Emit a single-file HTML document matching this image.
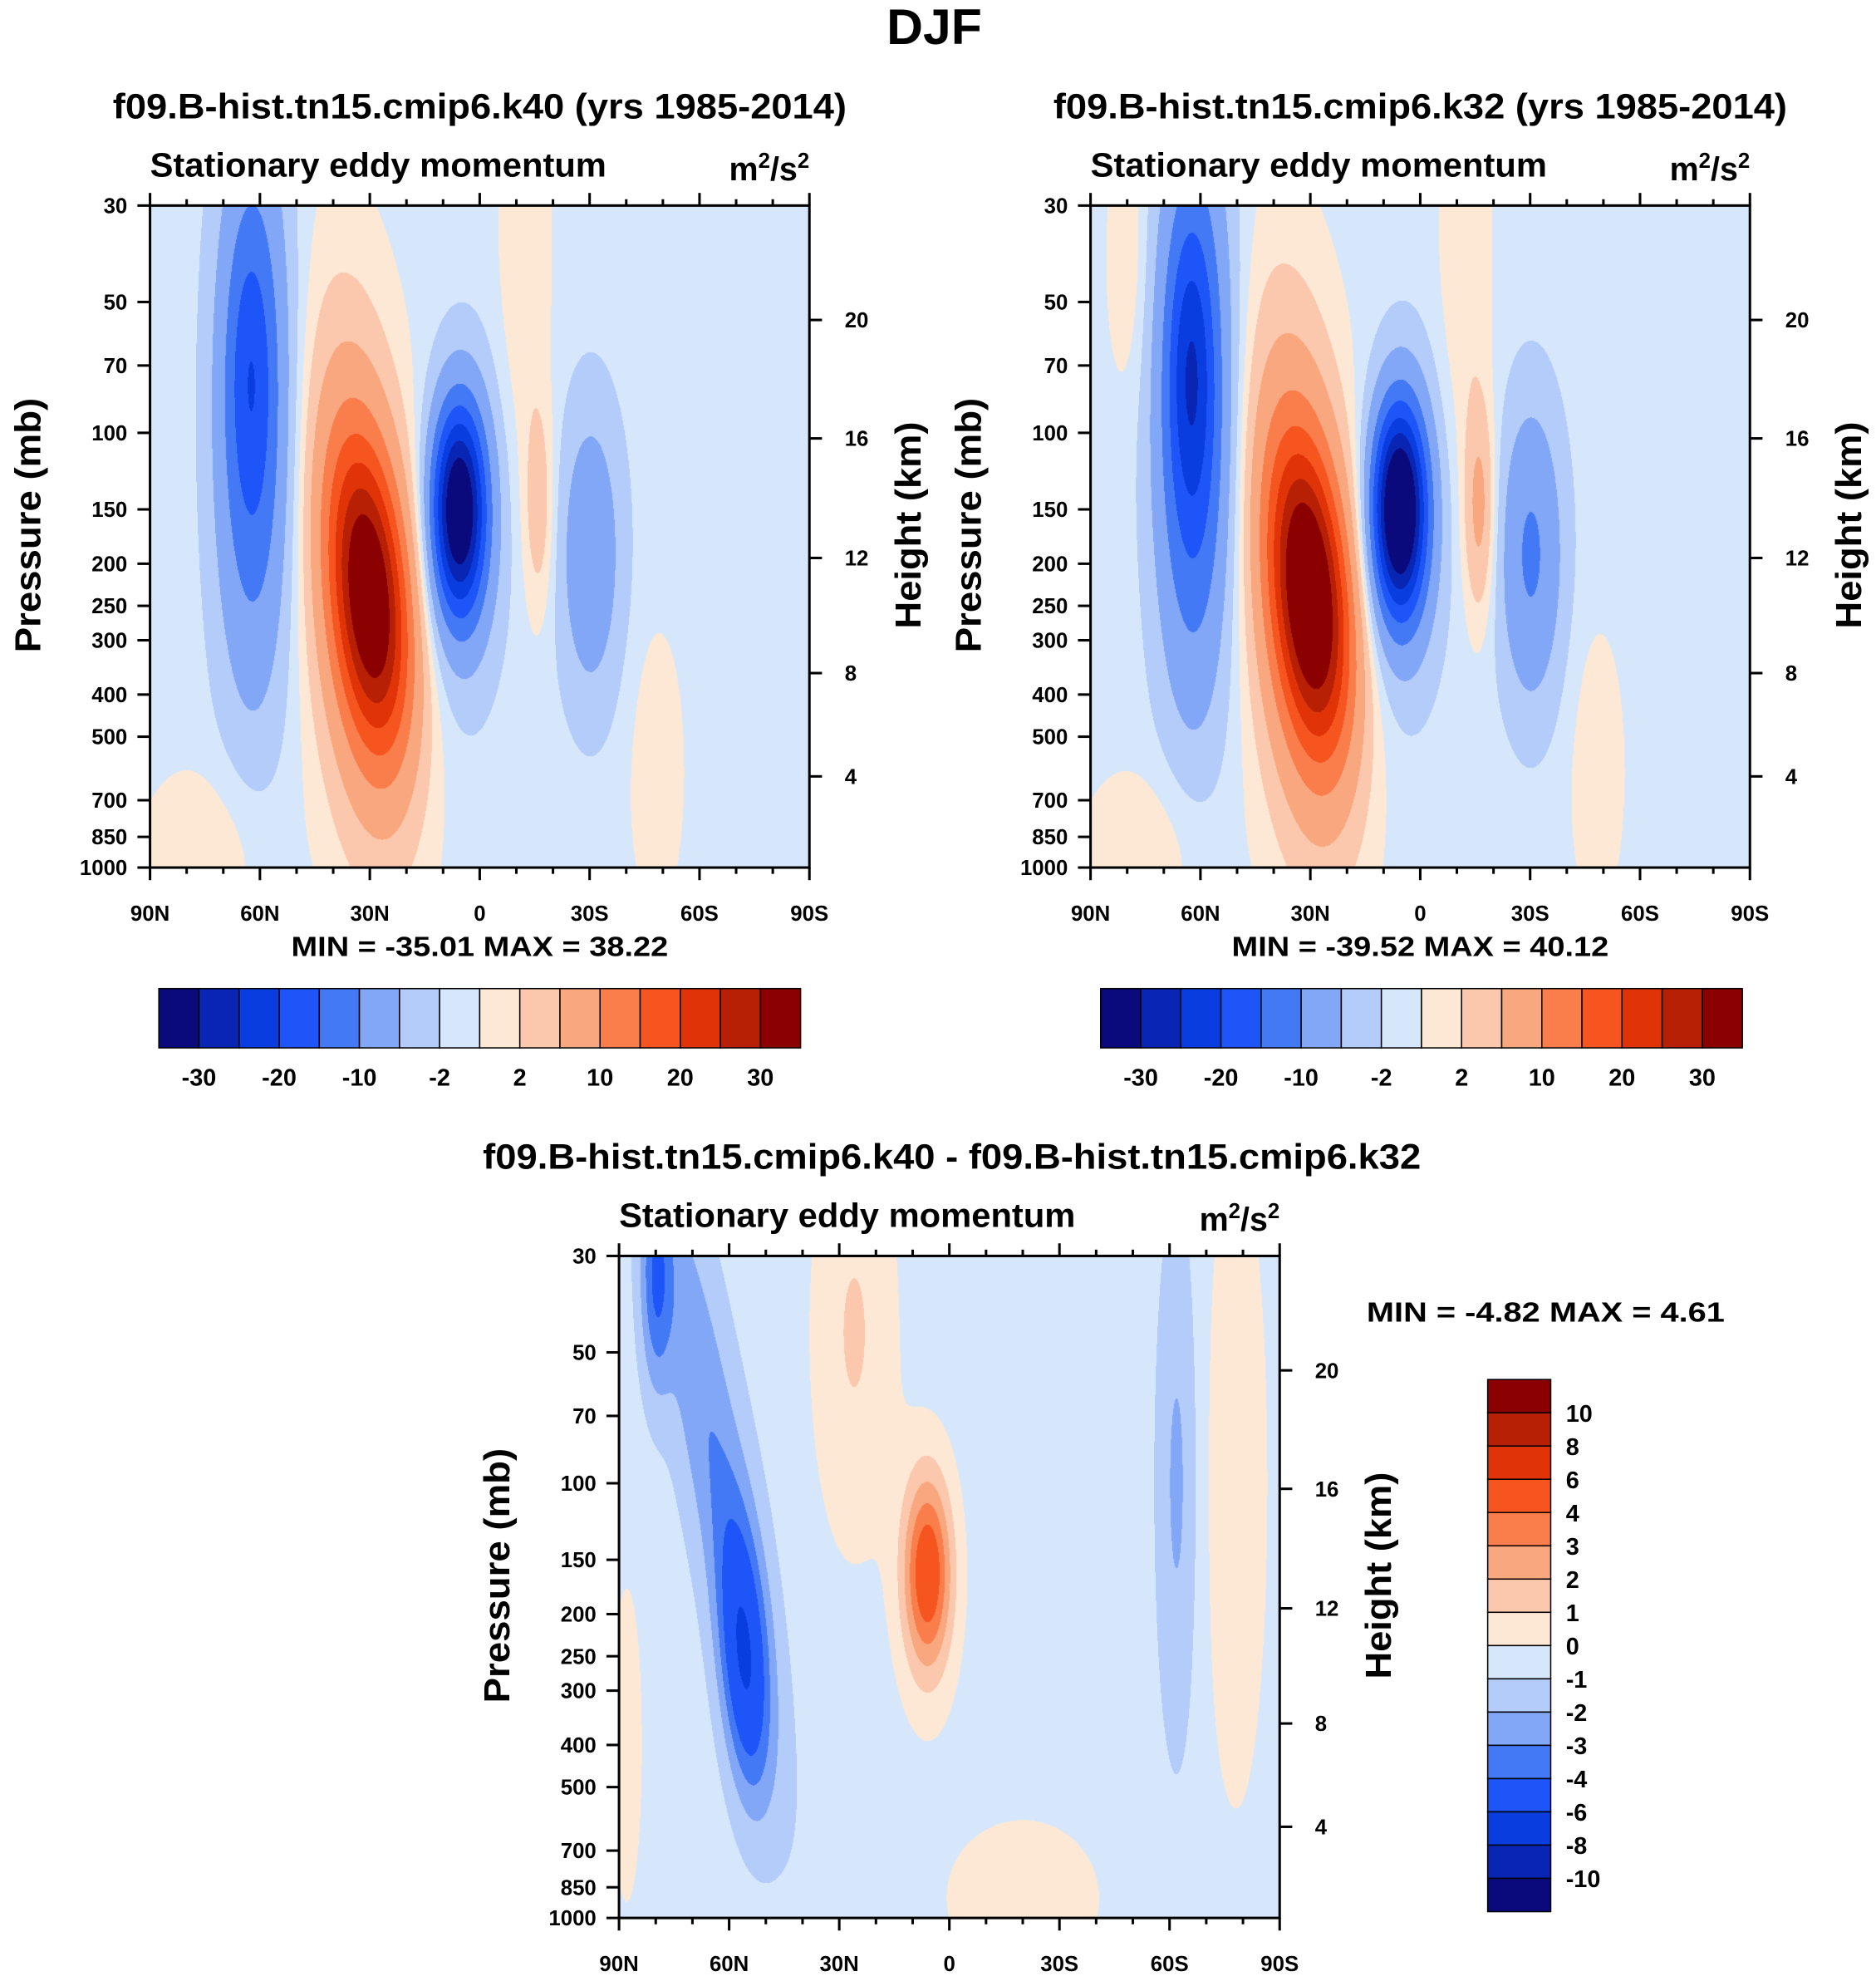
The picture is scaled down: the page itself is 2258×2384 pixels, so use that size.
<!DOCTYPE html>
<html><head><meta charset="utf-8">
<style>
html,body{margin:0;padding:0;background:#fff;}
#wrap{position:relative;width:2258px;height:2384px;overflow:hidden;}
canvas{position:absolute;}
svg{position:absolute;left:0;top:0;}
text{font-family:"Liberation Sans",Arial,sans-serif;font-weight:bold;fill:#000;}
</style></head>
<body>
<div id="wrap">
<canvas id="c1"></canvas>
<canvas id="c2"></canvas>
<canvas id="c3"></canvas>
<svg id="svg" width="2258" height="2384" viewBox="0 0 1488 1571" preserveAspectRatio="none"></svg>
</div>
<script>
// ---- data ----
const colors16 = ['#0a0a7d','#0925b4','#0a3de0','#1e55f8','#4479f5','#83a7f7','#b4ccf9','#d6e7fb','#fde8d6','#fbc8ad','#f9a77f','#f97e4b','#f75520','#e03408','#b82005','#8b0000'];
const levels12 = [-30,-25,-20,-15,-10,-5,-2,0,2,5,10,15,20,25,30];
const labels12 = ['-30','-20','-10','-2','2','10','20','30'];
const levels3 = [-10,-8,-6,-4,-3,-2,-1,0,1,2,3,4,6,8,10];
const pTicks = [30,50,70,100,150,200,250,300,400,500,700,850,1000];
const hTicksKm = [20,16,12,8,4];
const hTicksP = [55,103,194,357,617];
const latTicks = [90,60,30,0,-30,-60,-90];
const latLabels = ['90N','60N','30N','0','30S','60S','90S'];

// panel 1 blobs
const p1Lat  = [62, 63, 30, 33, 6, 4, -16, -30, -12, -48, 75];
const p1P    = [90, 70, 240, 220, 150, 170, 150, 190, 40, 600, 900];
const p1Amp  = [-15, -5, 30, 10, -32, -6, 4.5, -8, 2.5, 2.5, 2.5];
const p1SLat = [7, 4, 7, 10, 5, 7, 3, 6, 5, 5, 12];
const p1SLnP = [1.0, 0.5, 0.55, 1.0, 0.38, 0.6, 0.4, 0.55, 0.8, 0.5, 0.3];
const p1Tilt = [0, 0, -4, -3, 0, 0, 0, 0, 0, 0, 0];
// panel 2 blobs
const p2Lat  = [62, 63, 30, 33, 6, 4, -16, -30, -12, -48, 75, 80];
const p2P    = [90, 70, 240, 220, 150, 170, 150, 190, 40, 600, 900, 40];
const p2Amp  = [-18, -8, 32, 11, -36, -6, 7, -10, 2.5, 2.5, 2.5, 2.5];
const p2SLat = [7, 4, 7, 10, 5, 7, 3, 6, 5, 5, 12, 4];
const p2SLnP = [1.0, 0.5, 0.55, 1.0, 0.38, 0.6, 0.4, 0.55, 0.8, 0.5, 0.3, 0.5];
const p2Tilt = [0, 0, -4, -3, 0, 0, 0, 0, 0, 0, 0, 0];
// panel 3 blobs (difference)
const p3Lat  = [56, 65, 80, 6, 6, 26, -78, -62, -20, 88];
const p3P    = [260, 80, 35, 160, 170, 45, 100, 100, 900, 400];
const p3Amp  = [-4.4, -2.4, -2.8, 4.4, 1.3, 1.6, 1.4, -1.7, 1.3, 1.3];
const p3SLat = [4.5, 7, 3, 4.5, 6, 8, 6, 4, 15, 3];
const p3SLnP = [0.5, 1.2, 0.4, 0.35, 0.5, 0.8, 1.2, 1.0, 0.3, 0.6];
const p3Tilt = [-3, -9, 0, 0, 0, 0, 0, 0, 0, 0];

// ---- geometry (display units; S scales to px) ----
const S = 2258/1488;
const panels = [
  {x:119,y:163,w:523,h:525,id:'c1',lat:p1Lat,p:p1P,a:p1Amp,sl:p1SLat,sp:p1SLnP,t:p1Tilt,bg:-0.8,lev:levels12,name:'k40'},
  {x:865,y:163,w:523,h:525,id:'c2',lat:p2Lat,p:p2P,a:p2Amp,sl:p2SLat,sp:p2SLnP,t:p2Tilt,bg:-0.8,lev:levels12,name:'k32'},
  {x:491,y:996,w:524,h:525,id:'c3',lat:p3Lat,p:p3P,a:p3Amp,sl:p3SLat,sp:p3SLnP,t:p3Tilt,bg:-0.5,lev:levels3,name:'diff'}
];
function xOf(P,lat){return P.x + (90-lat)/180*P.w;}
function yOf(P,p){return P.y+P.h - Math.log(1000/p)/Math.log(1000/30)*P.h;}
function field(P,lat,p){
  let v=P.bg; const lp=Math.log(p);
  for(let i=0;i<P.lat.length;i++){
    const l0=Math.log(P.p[i]);
    const c=P.lat[i]+P.t[i]*(lp-l0);
    const dx=(lat-c)/P.sl[i], dy=(lp-l0)/P.sp[i];
    v+=P.a[i]*Math.exp(-0.5*(dx*dx+dy*dy));
  }
  return v;
}
function colorIdx(lev,v){let k=0;while(k<lev.length&&v>=lev[k])k++;return k;}
function hex(h){return [parseInt(h.substr(1,2),16),parseInt(h.substr(3,2),16),parseInt(h.substr(5,2),16)];}
const rgb=colors16.map(hex);

panels.forEach(P=>{
  const c=document.getElementById(P.id);
  const W=Math.round(P.w*S),H=Math.round(P.h*S);
  c.width=W;c.height=H;c.style.left=(P.x*S)+'px';c.style.top=(P.y*S)+'px';
  const ctx=c.getContext('2d');const img=ctx.createImageData(W,H);
  for(let j=0;j<H;j++){
    const p=1000*Math.exp(-(H-j)/H*Math.log(1000/30));
    for(let i=0;i<W;i++){
      const lat=90-i/W*180;
      const k=colorIdx(P.lev,field(P,lat,p));
      const o=(j*W+i)*4;img.data[o]=rgb[k][0];img.data[o+1]=rgb[k][1];img.data[o+2]=rgb[k][2];img.data[o+3]=255;
    }
  }
  ctx.putImageData(img,0,0);
});

// ---- SVG ----
const svg=document.getElementById('svg');const NS='http://www.w3.org/2000/svg';
function el(tag,attrs,parent){const e=document.createElementNS(NS,tag);for(const k in attrs)e.setAttribute(k,attrs[k]);(parent||svg).appendChild(e);return e;}
function txt(x,y,s,size,anchor,name,extra){const t=el('text',Object.assign({x:x,y:y,'font-size':size,'text-anchor':anchor||'middle'},extra||{}));t.textContent=s;return t;}

txt(741,35,'DJF',40,'middle','figure-title');
const titles=['f09.B-hist.tn15.cmip6.k40 (yrs 1985-2014)','f09.B-hist.tn15.cmip6.k32 (yrs 1985-2014)','f09.B-hist.tn15.cmip6.k40 - f09.B-hist.tn15.cmip6.k32'];
const titleLen=[582,582,744];
const mm=['MIN = -35.01  MAX =  38.22','MIN = -39.52  MAX =  40.12'];

panels.forEach((P,pi)=>{
  const g=el('g',{});
  const cx=P.x+P.w/2;
  const tt=el('text',{x:pi<2?cx+(pi===0?0:0):755,y:P.y-69,'font-size':28,'text-anchor':'middle',textLength:titleLen[pi],lengthAdjust:'spacingAndGlyphs'},g);tt.textContent=titles[pi];
  
  const st=el('text',{x:P.x,y:P.y-23,'font-size':27,'text-anchor':'start',textLength:362,lengthAdjust:'spacingAndGlyphs'},g);st.textContent='Stationary eddy momentum';
  
  const un=el('text',{x:P.x+P.w,y:P.y-20,'font-size':26,'text-anchor':'end'},g);
  
  un.innerHTML='m<tspan dy="-10" font-size="17">2</tspan><tspan dy="10">/s</tspan><tspan dy="-10" font-size="17">2</tspan>';
  el('rect',{x:P.x,y:P.y,width:P.w,height:P.h,fill:'none',stroke:'#000','stroke-width':2},g);
  pTicks.forEach(p=>{const y=yOf(P,p);el('line',{x1:P.x-10,x2:P.x,y1:y,y2:y,stroke:'#000','stroke-width':2},g);
    const t=el('text',{x:P.x-18,y:y+6,'font-size':17,'text-anchor':'end'},g);t.textContent=p;});
  hTicksKm.forEach((h,i)=>{const y=yOf(P,hTicksP[i]);el('line',{x1:P.x+P.w,x2:P.x+P.w+10,y1:y,y2:y,stroke:'#000','stroke-width':2},g);
    const t=el('text',{x:P.x+P.w+28,y:y+6,'font-size':17,'text-anchor':'start'},g);t.textContent=h;});
  for(let lat=90;lat>=-90;lat-=10){const x=xOf(P,lat);const major=lat%30===0;const L=major?10:5;
    el('line',{x1:x,x2:x,y1:P.y+P.h,y2:P.y+P.h+L,stroke:'#000','stroke-width':2},g);
    el('line',{x1:x,x2:x,y1:P.y,y2:P.y-L,stroke:'#000','stroke-width':2},g);}
  latTicks.forEach((lat,i)=>{const t=el('text',{x:xOf(P,lat),y:P.y+P.h+42,'font-size':17,'text-anchor':'middle'},g);t.textContent=latLabels[i];});
  const yl=el('text',{x:0,y:0,'font-size':29,'text-anchor':'middle',textLength:202,lengthAdjust:'spacingAndGlyphs',transform:`translate(${P.x-87},${P.y+P.h/2-9}) rotate(-90)`},g);yl.textContent='Pressure (mb)';
  const yr=el('text',{x:0,y:0,'font-size':29,'text-anchor':'middle',textLength:164,lengthAdjust:'spacingAndGlyphs',transform:`translate(${P.x+P.w+88},${P.y+P.h/2-9}) rotate(-90)`},g);yr.textContent='Height (km)';
  if(pi<2){const m=el('text',{x:cx,y:P.y+P.h+70,'font-size':22,'text-anchor':'middle','xml:space':'preserve',textLength:299,lengthAdjust:'spacingAndGlyphs'},g);m.textContent=mm[pi];}
});

// horizontal colorbars
[126,873].forEach((x0,bi)=>{
  const g=el('g',{});
  const bw=509/16;
  colors16.forEach((c,k)=>{const r=el('rect',{x:x0+k*bw,y:784,width:bw,height:47,fill:c,stroke:'#000','stroke-width':1},g);});
  labels12.forEach((s,i)=>{const t=el('text',{x:x0+(2*i+1)*bw,y:861,'font-size':19,'text-anchor':'middle'},g);t.textContent=s;});
});
// vertical colorbar
(function(){
  const g=el('g',{});
  const y0=1094,bh=422/16;
  colors16.slice().reverse().forEach((c,k)=>{const r=el('rect',{x:1180,y:y0+k*bh,width:50,height:bh,fill:c,stroke:'#000','stroke-width':1},g);});
  levels3.slice().reverse().forEach((v,i)=>{const t=el('text',{x:1242,y:y0+(i+1)*bh+7,'font-size':19,'text-anchor':'start'},g);t.textContent=v;});
  const m=el('text',{x:1226,y:1048,'font-size':22,'text-anchor':'middle','xml:space':'preserve',textLength:284,lengthAdjust:'spacingAndGlyphs'},g);m.textContent='MIN =  -4.82  MAX =   4.61';
})();
</script>
</body></html>
